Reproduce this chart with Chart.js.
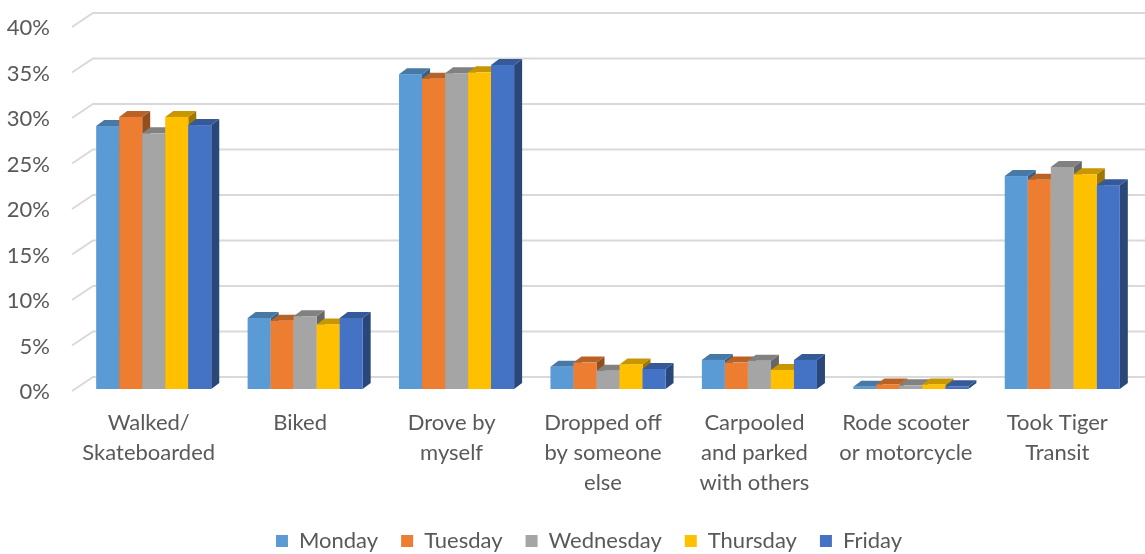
<!DOCTYPE html>
<html>
<head>
<meta charset="utf-8">
<script src="https://cdn.jsdelivr.net/npm/chart.js@4.4.0/dist/chart.umd.min.js"></script>
<style>
  html, body { margin: 0; padding: 0; background: #ffffff; }
  canvas { display: block; }
</style>
</head>
<body>
<canvas id="graficoTransporte" width="1145" height="554"></canvas>
<script>
    // modos de transporte (eje x)
    const categorias = [
        ['Walked/', 'Skateboarded'],
        'Biked',
        ['Drove by', 'myself'],
        ['Dropped off', 'by someone', 'else'],
        ['Carpooled', 'and parked', 'with others'],
        ['Rode scooter', 'or motorcycle'],
        ['Took Tiger', 'Transit']
    ];

    const dias = ['Monday', 'Tuesday', 'Wednesday', 'Thursday', 'Friday'];
    const colores = ['#5B9BD5', '#ED7D31', '#A5A5A5', '#FFC000', '#4472C4'];

    // porcentaje por dia
    const lunes     = [0.289, 0.078, 0.346, 0.0245, 0.032, 0.0025, 0.234];
    const martes    = [0.299, 0.075, 0.341, 0.029, 0.029, 0.005, 0.230];
    const miercoles = [0.281, 0.080, 0.347, 0.020, 0.031, 0.004, 0.244];
    const jueves    = [0.299, 0.071, 0.348, 0.027, 0.021, 0.005, 0.236];
    const viernes   = [0.290, 0.078, 0.356, 0.022, 0.032, 0.003, 0.224];

    const series = [lunes, martes, miercoles, jueves, viernes];

    const FUENTE = 'Lato, "Open Sans", sans-serif';
    const GRIS_TEXTO = '#595959';

    // oscurecer un color hex
    function sombra(hex, f) {
        const n = parseInt(hex.slice(1), 16);
        const r = Math.round(((n >> 16) & 255) * f);
        const g = Math.round(((n >> 8) & 255) * f);
        const b = Math.round((n & 255) * f);
        return 'rgb(' + r + ',' + g + ',' + b + ')';
    }

    // lineas de la pared del fondo + columnas con efecto 3D
    const columnas3D = {
        id: 'columnas3D',
        afterLayout(chart) {
            // que las etiquetas del eje y no se recorten
            chart.scales.y.left = 0;
        },
        beforeDatasetsDraw(chart) {
            const ctx = chart.ctx;
            const area = chart.chartArea;
            const y = chart.scales.y;

            ctx.save();
            ctx.strokeStyle = '#D9D9D9';
            ctx.lineWidth = 2;
            y.ticks.forEach(t => {
                const py = y.getPixelForValue(t.value);
                ctx.beginPath();
                ctx.moveTo(area.left - 6, py + 2);
                ctx.lineTo(area.left + 15, py - 12);
                ctx.lineTo(chart.width, py - 12);
                ctx.stroke();
            });
            ctx.restore();

            const dx = 8, dy = 6;
            const metas = chart.data.datasets.map((d, i) => chart.getDatasetMeta(i));
            ctx.save();
            for (let c = 0; c < categorias.length; c++) {
                metas.forEach((meta, i) => {
                    const bar = meta.data[c];
                    const color = colores[i];
                    const x0 = bar.x - bar.width / 2;
                    const x1 = bar.x + bar.width / 2;
                    const top = bar.y;
                    const base = bar.base;

                    // lado derecho
                    ctx.fillStyle = sombra(color, 0.62);
                    ctx.beginPath();
                    ctx.moveTo(x1, base);
                    ctx.lineTo(x1 + dx, base - dy);
                    ctx.lineTo(x1 + dx, top - dy);
                    ctx.lineTo(x1, top);
                    ctx.closePath();
                    ctx.fill();

                    // tapa superior
                    ctx.fillStyle = sombra(color, 0.78);
                    ctx.beginPath();
                    ctx.moveTo(x0, top);
                    ctx.lineTo(x0 + dx, top - dy);
                    ctx.lineTo(x1 + dx, top - dy);
                    ctx.lineTo(x1, top);
                    ctx.closePath();
                    ctx.fill();

                    // cara frontal
                    ctx.fillStyle = color;
                    ctx.fillRect(x0, top, x1 - x0, base - top);
                });
            }
            ctx.restore();
            return false;
        }
    };

    const ctx = document.getElementById('graficoTransporte').getContext('2d');
    const grafico = new Chart(ctx, {
        type: 'bar',
        data: {
            labels: categorias,
            datasets: dias.map((dia, i) => ({
                label: dia,
                data: series[i],
                backgroundColor: colores[i],
                borderWidth: 0,
                categoryPercentage: 0.76,
                barPercentage: 1.0
            }))
        },
        options: {
            responsive: false,
            animation: false,
            layout: {
                padding: { left: 40, right: 7, top: 25, bottom: -8 }
            },
            scales: {
                x: {
                    grid: { display: false, drawTicks: false },
                    border: { display: false },
                    ticks: {
                        color: GRIS_TEXTO,
                        font: { family: FUENTE, size: 22, lineHeight: 1.36 },
                        padding: 19,
                        labelOffset: -5,
                        maxRotation: 0,
                        autoSkip: false
                    },
                    afterFit: s => {
                        s.height = 118;
                        s.paddingLeft = 0;
                        s.paddingRight = 0;
                    }
                },
                y: {
                    min: 0,
                    max: 0.4,
                    grid: { display: false, drawTicks: false },
                    border: { display: false },
                    ticks: {
                        stepSize: 0.05,
                        color: GRIS_TEXTO,
                        font: { family: FUENTE, size: 22 },
                        padding: 28,
                        labelOffset: 3,
                        callback: v => Math.round(v * 100) + '%'
                    },
                    afterFit: s => {
                        s.width = 38;
                        s.paddingTop = 0;
                        s.paddingBottom = 0;
                    }
                }
            },
            plugins: {
                legend: {
                    position: 'bottom',
                    labels: {
                        color: GRIS_TEXTO,
                        font: { family: FUENTE, size: 22 },
                        boxWidth: 12,
                        boxHeight: 12,
                        padding: 23
                    }
                },
                tooltip: { enabled: false }
            }
        },
        plugins: [columnas3D]
    });
</script>
</body>
</html>
